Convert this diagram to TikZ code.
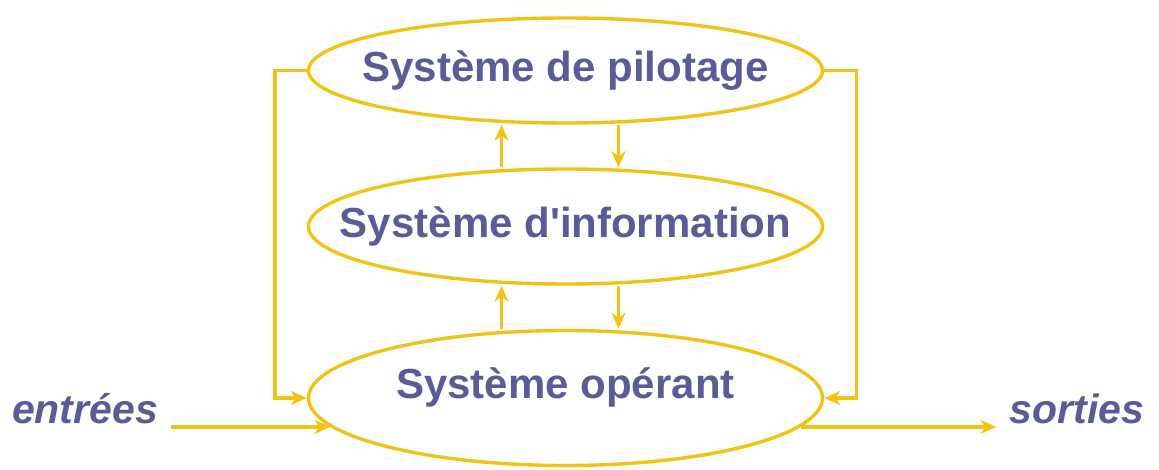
\documentclass[tikz,border=0pt]{standalone}
\usepackage{fontspec}
\setmainfont{Liberation Sans}
\usepackage{xcolor}
\usepackage{tikz}
\usetikzlibrary{shapes.geometric}
\usetikzlibrary{arrows.meta}
\definecolor{sysgold}{HTML}{F2C314}
\definecolor{sysblue}{HTML}{5B5B97}
\tikzset{edge/.style = {-{Stealth[length=8pt,width=7pt,inset=2.5pt]}, draw=sysgold, line width=1.7pt}}

\begin{document}
\begin{tikzpicture}[x=0.5pt,y=-0.5pt,
    sys node/.style={ellipse,draw=sysgold,line width=1.7pt,inner sep=0pt,minimum width=257pt},
    sys text/.style={text=sysblue,inner sep=0pt,font=\fontsize{21}{25}\selectfont\bfseries},
    io node/.style={text=sysblue,inner sep=6.5pt,anchor=base,font=\fontsize{20.5}{24}\selectfont\bfseries\itshape}]
            \useasboundingbox (0,0) rectangle (1159,470);
            \node[sys node,minimum height=52.5pt,label={[sys text]center:Système de pilotage}] (pilot) at (565.5,70.5) {};
            \node[sys node,minimum height=57.5pt,label={[sys text]center:Système d\textquotesingle information}] (info) at (565.5,226.5) {};
            \node[sys node,minimum height=67.5pt,label={[sys text,yshift=5.5pt]center:Système opérant}] (oper) at (565.5,398) {};
            \node[io node] (in) at (85,423) {entrées};
            \node[io node] (out) at (1077,423) {sorties};

            % pilotage <-> information
            \draw[edge] ([xshift=-32pt]info.north) -- ([xshift=-32pt]pilot.south);
            \draw[edge] ([xshift=26.5pt]pilot.south) -- ([xshift=26.5pt]info.north);
            % information <-> operant
            \draw[edge] ([xshift=-32pt]oper.north) -- ([xshift=-32pt]info.south);
            \draw[edge] ([xshift=26.5pt]info.south) -- ([xshift=26.5pt]oper.north);

            % feedback loops
            \draw[edge] (pilot.west) -- ++(-16pt,0) |- (oper.west);
            \draw[edge] (pilot.east) -- ++(16pt,0) |- (oper.east);

            \draw[edge] (oper.187 -| in.east) -- (oper.187);
            \draw[edge] (oper.-7) -- (oper.-7 -| out.west);
        \end{tikzpicture}
\end{document}
